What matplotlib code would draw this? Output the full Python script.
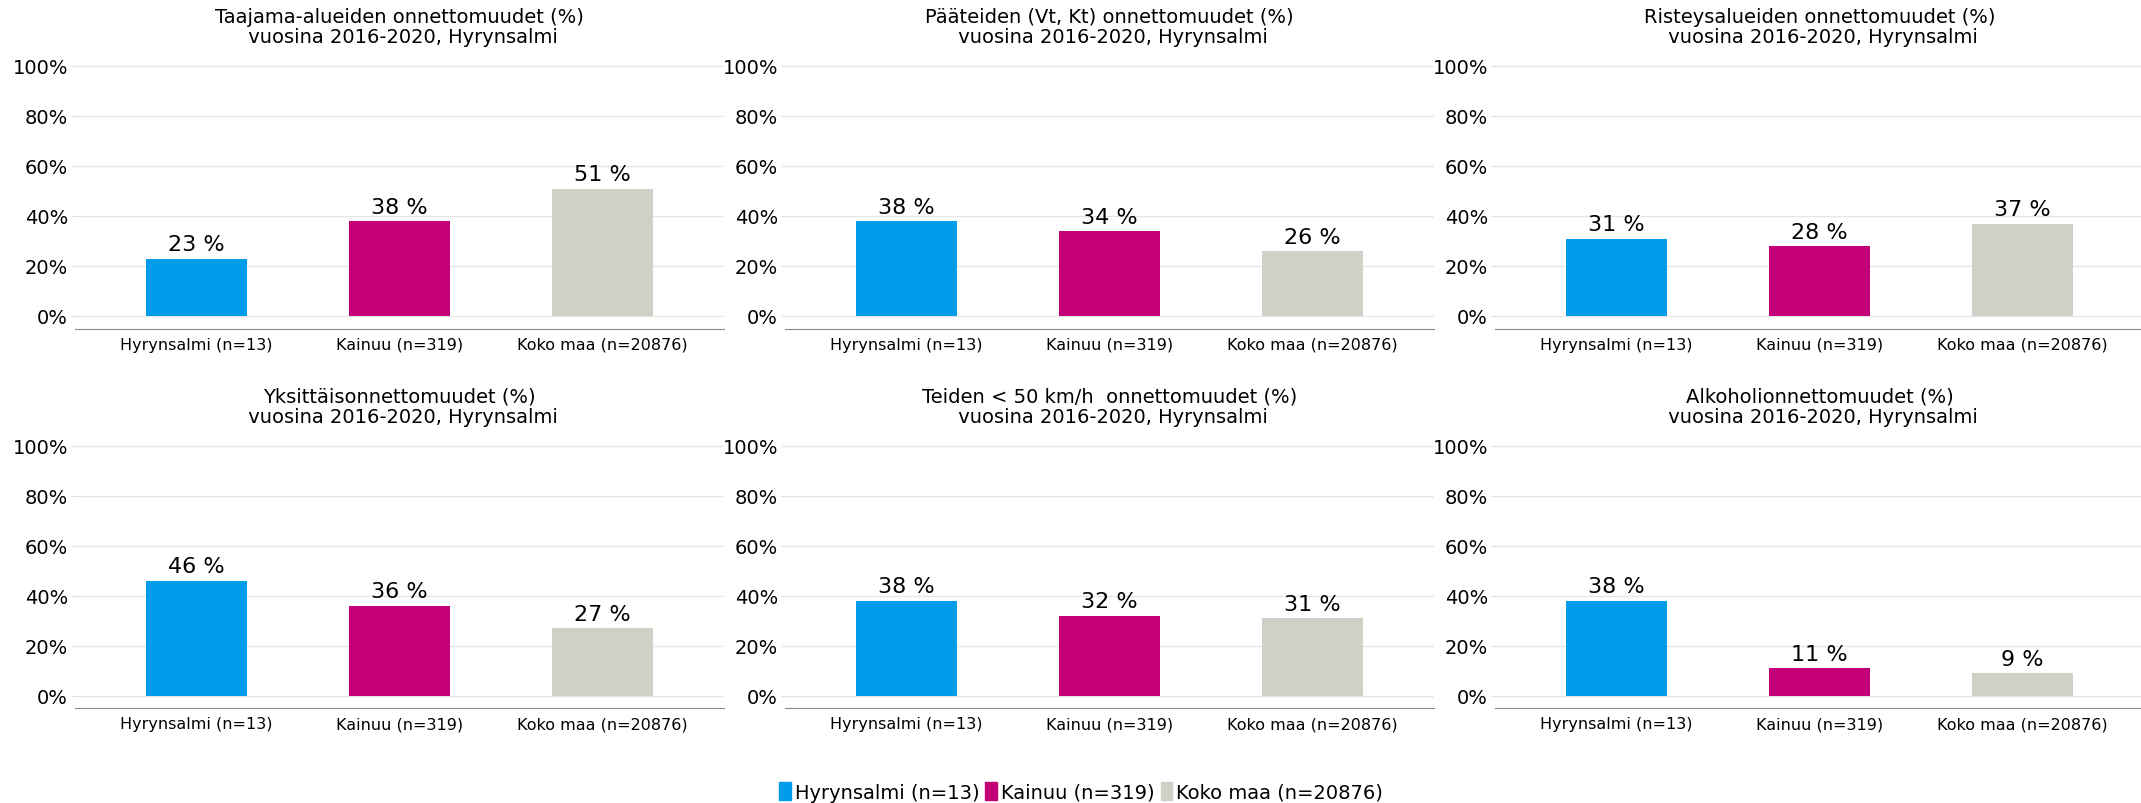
import matplotlib.pyplot as plt
from matplotlib.patches import Patch

# data
categories = ["Hyrynsalmi (n=13)", "Kainuu (n=319)", "Koko maa (n=20876)"]
titles = [
    "Taajama-alueiden onnettomuudet (%)\n vuosina 2016-2020, Hyrynsalmi",
    "Pääteiden (Vt, Kt) onnettomuudet (%)\n vuosina 2016-2020, Hyrynsalmi",
    "Risteysalueiden onnettomuudet (%)\n vuosina 2016-2020, Hyrynsalmi",
    "Yksittäisonnettomuudet (%)\n vuosina 2016-2020, Hyrynsalmi",
    "Teiden < 50 km/h  onnettomuudet (%)\n vuosina 2016-2020, Hyrynsalmi",
    "Alkoholionnettomuudet (%)\n vuosina 2016-2020, Hyrynsalmi",
]
taajama = [23, 38, 51]
paatiet = [38, 34, 26]
risteys = [31, 28, 37]
yksittais = [46, 36, 27]
alle50 = [38, 32, 31]
alkoholi = [38, 11, 9]
yticks = [0, 20, 40, 60, 80, 100]

colors = ["#009DEB", "#C30077", "#CFD0C6"]

plt.rcParams['font.family'] = ['DejaVu Sans']

fig = plt.figure(figsize=(21.41, 8.04), dpi=100)

series = [taajama, paatiet, risteys, yksittais, alle50, alkoholi]
lefts = [75 / 2141, 785 / 2141, 1495 / 2141]
bottoms = [1 - 329.5 / 804, 1 - 709 / 804]
w = 649 / 2141
h = 275 / 804

for i, vals in enumerate(series):
    row, col = divmod(i, 3)
    ax = fig.add_axes([lefts[col], bottoms[row], w, h])
    x = list(range(len(categories)))
    bars = ax.bar(x, vals, width=0.5, color=colors, zorder=3)
    for b, v in zip(bars, vals):
        ax.annotate(f"{v} %", (b.get_x() + b.get_width() / 2, v),
                    xytext=(0, 3), textcoords="offset points",
                    ha="center", va="bottom", fontsize=16, zorder=4)
    ax.set_xlim(-0.6, 2.6)
    ax.set_ylim(-5, 105)
    ax.set_yticks(yticks)
    ax.set_yticklabels([f"{t}%" for t in yticks], fontsize=14)
    ax.set_xticks(x)
    ax.set_xticklabels(categories, fontsize=11.5)
    ax.tick_params(axis="x", length=0, pad=6)
    ax.tick_params(axis="y", length=3, color="#DDDDDD", pad=2)
    ax.grid(axis="y", color="#E6E6E6", linewidth=1, zorder=0)
    for s in ["top", "right", "left"]:
        ax.spines[s].set_visible(False)
    ax.spines["bottom"].set_color("#888888")
    ax.set_title(titles[i], fontsize=14, pad=8, linespacing=1.1)

handles = [Patch(color=c) for c in colors]
fig.legend(handles, categories, loc="lower center", bbox_to_anchor=(0.505, -0.008),
           ncol=3, frameon=False, fontsize=14, handlelength=0.6, handleheight=1.1,
           handletextpad=0.2, columnspacing=0.3, borderaxespad=0)

fig.savefig("out.png", dpi=100)
